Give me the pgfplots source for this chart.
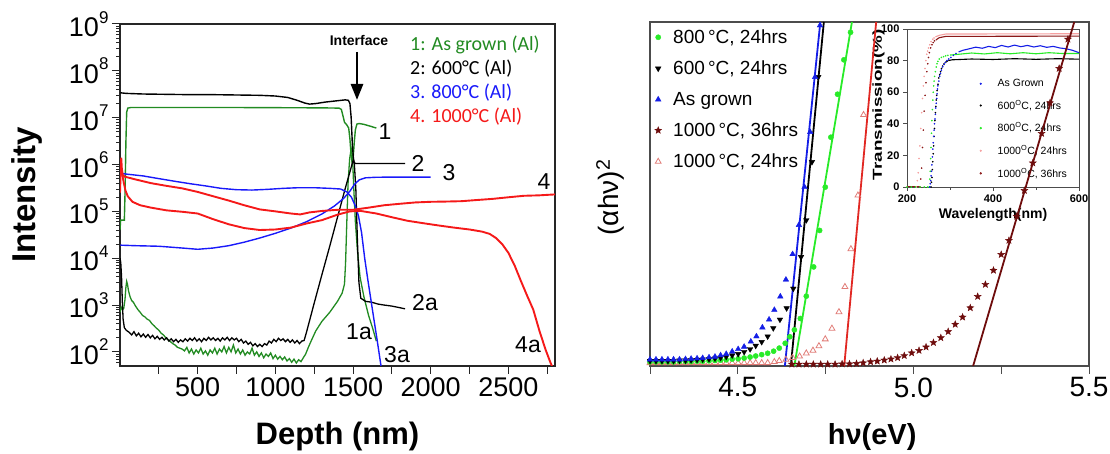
\documentclass[border=0pt]{standalone}
\usepackage{pgfplots}
\pgfplotsset{compat=1.18}
\usepackage{fontspec}
\setmainfont{Liberation Sans}
\newfontfamily\calfont{Carlito}
\usetikzlibrary{arrows.meta}
\definecolor{cgreen}{RGB}{34,139,34}
\definecolor{cblue}{RGB}{25,25,250}
\definecolor{cred}{RGB}{245,25,25}
\definecolor{lgreen}{RGB}{40,235,40}
\definecolor{lblue}{RGB}{20,30,230}
\definecolor{lred}{RGB}{225,40,35}
\definecolor{maroon}{RGB}{110,12,12}
\definecolor{pinkt}{RGB}{225,125,120}
\definecolor{ipink}{RGB}{245,160,160}
\definecolor{idred}{RGB}{140,25,25}
\newcommand{\tp}[1]{10\raisebox{0.5em}{\fontsize{17}{17}\selectfont #1}}
\pgfdeclareplotmark{fstar}{%
  \pgfpathmoveto{\pgfpointpolar{90}{\pgfplotmarksize}}%
  \pgfpathlineto{\pgfpointpolar{126}{0.42\pgfplotmarksize}}%
  \pgfpathlineto{\pgfpointpolar{162}{\pgfplotmarksize}}%
  \pgfpathlineto{\pgfpointpolar{198}{0.42\pgfplotmarksize}}%
  \pgfpathlineto{\pgfpointpolar{234}{\pgfplotmarksize}}%
  \pgfpathlineto{\pgfpointpolar{270}{0.42\pgfplotmarksize}}%
  \pgfpathlineto{\pgfpointpolar{306}{\pgfplotmarksize}}%
  \pgfpathlineto{\pgfpointpolar{342}{0.42\pgfplotmarksize}}%
  \pgfpathlineto{\pgfpointpolar{18}{\pgfplotmarksize}}%
  \pgfpathlineto{\pgfpointpolar{54}{0.42\pgfplotmarksize}}%
  \pgfpathclose\pgfusepathqfillstroke}
\begin{document}
\begin{tikzpicture}[x=1pt,y=1pt]
\useasboundingbox (0,0) rectangle (1110,454);
% ================= LEFT PANEL =================
\begin{axis}[at={(120pt,88pt)}, anchor=south west, width=435pt, height=342pt, scale only axis,
  xmin=0, xmax=2800, ymode=log, log basis y=10, ymin=50, ymax=1e9,
  xtick={250,500,...,2750}, xticklabels={,500,,1000,,1500,,2000,,2500,},
  ytickten={2,...,9}, yticklabels={\tp{2},\tp{3},\tp{4},\tp{5},\tp{6},\tp{7},\tp{8},\tp{9}},
  minor ytick={60,70,80,90,200,300,400,500,600,700,800,900,2e3,3e3,4e3,5e3,6e3,7e3,8e3,9e3,2e4,3e4,4e4,5e4,6e4,7e4,8e4,9e4,2e5,3e5,4e5,5e5,6e5,7e5,8e5,9e5,2e6,3e6,4e6,5e6,6e6,7e6,8e6,9e6,2e7,3e7,4e7,5e7,6e7,7e7,8e7,9e7,2e8,3e8,4e8,5e8,6e8,7e8,8e8,9e8},
  tick align=outside, xtick pos=bottom, ytick pos=left,
  major tick length=8pt, minor tick length=4pt,
  axis line style={black!85, line width=1.3pt}, tick style={black!85, line width=1pt},
  minor tick style={black!85, line width=0.7pt},
  ticklabel style={font=\fontsize{27}{27}\selectfont},
  /pgf/number format/assume math mode=true,
  xlabel={\bfseries Depth (nm)}, ylabel={\bfseries Intensity},
  xlabel style={font=\fontsize{31}{31}\selectfont, at={(axis description cs:0.5,-0.205)}, anchor=center},
  ylabel style={font=\fontsize{33}{33}\selectfont, at={(axis description cs:-0.214,0.5)}, anchor=center},
  clip=true]
% curve 1 (green upper)
\addplot[cgreen, line width=1.4pt] coordinates {(0,4e4) (4,6.5e4) (28,6.5e4) (33,3e5) (38,3e6) (43,1.3e7) (50,1.6e7) (70,1.65e7) (300,1.65e7) (700,1.65e7) (1100,1.63e7) (1300,1.62e7) (1410,1.6e7) (1425,1.5e7) (1435,1.1e7) (1445,8e6) (1460,7e6) (1472,6e6) (1480,3.5e6) (1488,1.5e6) (1494,1.1e6) (1500,1.3e6) (1508,3e6) (1515,5.5e6) (1525,7.3e6) (1540,7.5e6) (1570,7.2e6) (1610,6.6e6) (1650,6.0e6)};
% curve 1a (green lower)
\addplot[cgreen, line width=1.3pt] coordinates {(0,700) (8,900) (16,800) (24,850) (32,1300) (38,2400) (43,3200) (48,2800) (55,2000) (65,1500) (75,1250) (86,1150) (100,950) (115,800) (130,700) (145,600) (160,560) (175,500) (190,470) (205,400) (220,360) (235,320) (250,290) (265,250) (280,230) (295,200) (310,180) (325,165) (340,150) (355,140) (370,125) (385,120) (400,115) (415,105) (430,125) (445,95) (460,115) (475,90) (490,110) (505,95) (520,120) (535,90) (550,105) (565,85) (580,110) (595,95) (610,120) (625,90) (640,115) (655,100) (670,130) (685,95) (700,125) (715,100) (730,140) (745,95) (760,115) (775,90) (790,110) (805,85) (820,100) (835,90) (850,120) (865,85) (880,100) (895,80) (910,95) (925,75) (940,90) (955,80) (970,95) (985,72) (1000,85) (1015,70) (1030,80) (1045,68) (1060,78) (1075,64) (1090,72) (1105,60) (1120,70) (1135,58) (1150,68) (1165,62) (1180,75) (1195,90) (1210,120) (1230,170) (1260,280) (1300,450) (1350,700) (1400,1200) (1430,1800) (1445,2800) (1452,8000) (1460,6e4) (1468,4e5) (1478,1.3e6) (1488,2.2e6) (1496,1.6e6) (1505,3e5) (1515,6e4) (1528,1.5e4) (1545,4e3) (1570,1.5e3) (1600,600) (1625,330) (1650,170)};
% curve 2 (black upper)
\addplot[black, line width=1.4pt] coordinates {(2,3.4e7) (40,3.3e7) (150,3.2e7) (300,3.15e7) (450,3.1e7) (600,3.1e7) (750,3.05e7) (900,3.0e7) (1000,2.9e7) (1080,2.7e7) (1140,2.35e7) (1190,2.05e7) (1220,1.95e7) (1260,2.0e7) (1320,2.15e7) (1400,2.3e7) (1450,2.4e7) (1470,2.35e7) (1480,2.0e7) (1488,1.0e7) (1495,3e6) (1502,1.4e6) (1508,1.08e6) (1520,1.05e6) (1835,1.05e6)};
% curve 2a (black lower)
\addplot[black, line width=1.3pt] coordinates {(0,1.0e4) (5,8000) (10,4000) (15,1200) (20,500) (28,330) (40,290) (60,260) (75,230) (90,270) (105,220) (120,250) (135,210) (150,240) (165,205) (180,235) (195,200) (210,225) (225,190) (240,215) (255,185) (270,205) (285,180) (300,200) (315,170) (330,190) (345,165) (360,185) (375,160) (390,180) (405,165) (420,190) (435,170) (450,195) (465,175) (480,200) (495,170) (510,190) (525,165) (540,195) (555,175) (570,205) (585,180) (600,200) (615,175) (630,195) (645,170) (660,200) (675,180) (690,205) (705,175) (720,200) (735,180) (750,195) (765,165) (780,185) (795,155) (810,170) (825,145) (840,160) (855,135) (870,150) (885,130) (900,145) (915,130) (930,150) (945,140) (960,170) (975,155) (990,185) (1005,165) (1020,195) (1035,175) (1050,190) (1065,165) (1080,185) (1095,160) (1110,180) (1125,155) (1140,175) (1155,150) (1170,170) (1185,175) (1200,260) (1250,1100) (1300,4500) (1350,1.8e4) (1400,7.5e4) (1450,3.1e5) (1480,7e5) (1500,1.2e6) (1508,1.1e6) (1518,3e5) (1528,2.5e4) (1538,3e3) (1550,1.4e3) (1580,1.2e3) (1620,1.15e3) (1660,1.05e3) (1700,1.0e3) (1750,950) (1800,880) (1835,830)};
% curve 3a (blue upper)
\addplot[cblue, line width=1.4pt] coordinates {(2,6.5e5) (50,6.2e5) (150,5.7e5) (250,5.0e5) (350,4.4e5) (450,3.9e5) (550,3.5e5) (650,3.1e5) (750,2.9e5) (850,2.85e5) (950,2.95e5) (1050,3.1e5) (1150,3.2e5) (1250,3.2e5) (1350,3.1e5) (1420,3.0e5) (1460,2.6e5) (1490,2.0e5) (1515,1.3e5) (1535,8e4) (1555,3.5e4) (1575,1e4) (1595,3.5e3) (1615,1.3e3) (1635,480) (1655,180) (1675,65) (1690,30)};
% curve 3 (blue lower)
\addplot[cblue, line width=1.4pt] coordinates {(2,1.9e4) (100,1.85e4) (250,1.8e4) (400,1.65e4) (500,1.55e4) (600,1.65e4) (700,1.85e4) (800,2.2e4) (900,2.7e4) (1000,3.4e4) (1100,4.4e4) (1200,6.0e4) (1300,8.8e4) (1380,1.3e5) (1440,1.9e5) (1480,2.7e5) (1510,3.8e5) (1540,4.7e5) (1580,5.2e5) (1650,5.35e5) (1800,5.4e5) (2000,5.4e5)};
% curve 4 (red upper)
\addplot[cred, line width=1.9pt] coordinates {(0,2.5e5) (4,6e5) (8,1.4e6) (12,8e5) (18,6e5) (30,5.5e5) (60,5.2e5) (100,4.8e5) (200,4.0e5) (300,3.5e5) (400,3.1e5) (500,2.6e5) (600,2.1e5) (700,1.7e5) (800,1.35e5) (900,1.1e5) (1000,1.0e5) (1100,9e4) (1160,8.6e4) (1220,9.5e4) (1300,1.02e5) (1400,1.08e5) (1500,1.08e5) (1600,1.2e5) (1700,1.35e5) (1800,1.45e5) (1900,1.55e5) (2000,1.6e5) (2100,1.62e5) (2200,1.65e5) (2300,1.75e5) (2400,1.85e5) (2500,2.0e5) (2600,2.15e5) (2700,2.2e5) (2800,2.3e5)};
% curve 4a (red lower)
\addplot[cred, line width=1.9pt] coordinates {(15,6e5) (25,4e5) (35,2.8e5) (50,2.1e5) (80,1.6e5) (130,1.35e5) (200,1.2e5) (300,1.05e5) (400,9.8e4) (500,9e4) (600,6.8e4) (700,5.3e4) (800,4.4e4) (900,4.0e4) (1000,4.1e4) (1100,4.5e4) (1200,5.5e4) (1300,6.5e4) (1400,8.5e4) (1480,1.0e5) (1550,1.02e5) (1650,9e4) (1750,7.5e4) (1850,6.3e4) (1950,5.6e4) (2050,5.0e4) (2150,4.5e4) (2250,4.1e4) (2330,3.7e4) (2380,3.3e4) (2420,2.7e4) (2460,2.0e4) (2500,1.3e4) (2540,7e3) (2580,3.3e3) (2620,1.6e3) (2660,800) (2700,280) (2740,110) (2770,60) (2800,35)};
\end{axis}
% left annotations
\node[font=\bfseries\fontsize{14}{14}\selectfont] at (359,413) {Interface};
\draw[line width=2.6pt, -{Triangle[length=16pt,width=12pt]}] (357,402) -- (357,354);
\begin{scope}[every node/.style={anchor=west, font=\calfont\fontsize{20}{20}\selectfont, inner sep=0pt}]
\node[text=cgreen] at (410,409) {1: As grown (Al)};
\node[text=black] at (410,385) {2: 600°C (Al)};
\node[text=cblue] at (410,361) {3. 800°C (Al)};
\node[text=cred] at (410,337) {4. 1000°C (Al)};
\end{scope}
\begin{scope}[every node/.style={font=\fontsize{23}{23}\selectfont, inner sep=0pt}]
\node at (385,322) {1};
\node at (418,291) {2};
\node at (449,281) {3};
\node at (544,272) {4};
\node at (425,151) {2a};
\node at (359,122) {1a};
\node at (397,99) {3a};
\node at (528,109) {4a};
\end{scope}
% ================= INSET =================
\begin{axis}[at={(907pt,267pt)}, anchor=south west, width=172pt, height=158pt, scale only axis,
  xmin=200, xmax=600, ymin=0, ymax=100,
  xtick={200,400,600}, minor xtick={300,500}, ytick={0,20,...,100},
  tick align=outside, xtick pos=bottom, ytick pos=left,
  major tick length=4pt, minor tick length=3pt,
  axis line style={black!70, line width=0.9pt}, tick style={black!70, line width=0.8pt},
  ticklabel style={font=\bfseries\fontsize{11}{11}\selectfont},
  /pgf/number format/assume math mode=true,
  xlabel={\bfseries Wavelength(nm)}, ylabel={\scalebox{1.45}[1]{\bfseries Transmission(\%)}},
  xlabel style={font=\fontsize{14}{14}\selectfont, at={(axis description cs:0.5,-0.175)}, anchor=center},
  ylabel style={font=\fontsize{13}{13}\selectfont, at={(axis description cs:-0.165,0.52)}, anchor=center},
  legend style={at={(axis description cs:0.41,0.695)}, anchor=north west, draw=none, fill=none,
    font=\fontsize{10.5}{10.5}\selectfont, row sep=8pt, inner sep=0pt},
  legend image code/.code={\path[draw=none,fill=none] (-3pt,-3pt) rectangle (15pt,3pt); \draw[#1] plot coordinates {(0pt,0pt)};},
  legend cell align=left]
\addlegendimage{only marks, mark=*, mark size=0.9pt, lblue}
\addlegendimage{only marks, mark=*, mark size=0.9pt, black}
\addlegendimage{only marks, mark=*, mark size=0.9pt, lgreen}
\addlegendimage{only marks, mark=*, mark size=0.9pt, ipink}
\addlegendimage{only marks, mark=*, mark size=0.9pt, idred}
% flat/plateau lines
\addplot[forget plot, ipink, line width=0.9pt] coordinates {(200,0) (222,0)};
\addplot[forget plot, ipink, line width=1.1pt] coordinates {(266,95) (275,96) (290,96.8) (600,97)};
\addplot[forget plot, idred, line width=0.9pt] coordinates {(200,0.3) (230,0.3)};
\addplot[forget plot, idred, line width=1.1pt] coordinates {(267,93) (275,94.5) (290,95.3) (600,95.5)};
\addplot[forget plot, lgreen, line width=1.1pt] coordinates {(300,83.5) (320,84) (350,84.8) (380,84.2) (410,85) (440,84.3) (470,85) (500,84.3) (530,85) (560,84.5) (600,84.5)};
\addplot[forget plot, black, line width=1.1pt] coordinates {(296,80) (305,80.5) (350,81) (400,80.7) (450,81.2) (500,80.8) (550,81.2) (600,80.9)};
\addplot[forget plot, lblue, line width=1.1pt] coordinates {(320,85.5) (330,86.5) (345,87.5) (360,88.5) (375,87.8) (390,89) (405,88.2) (420,89.6) (435,88.6) (450,89.8) (465,88.8) (480,89.6) (495,88.6) (510,89.4) (525,88.4) (540,89) (555,88) (570,87.5) (585,86.5) (600,85)};
% rising edges (dots)
\addplot[forget plot, only marks, mark=*, mark size=0.6pt, ipink] coordinates {(222,0) (224,4) (226,9) (228,18) (230,26) (232,37) (234,47) (236,56) (238,64) (240,70) (242,75) (244,80) (246,84) (248,86) (250,88) (253,90) (256,92) (260,93.5) (263,94.3)};
\addplot[forget plot, only marks, mark=*, mark size=0.6pt, idred] coordinates {(230,0) (232,5) (234,12) (236,25) (238,36) (240,48) (242,58) (244,66) (246,73) (248,78) (250,82) (252,85) (255,88) (258,90) (261,91.5) (264,92.5)};
\addplot[forget plot, only marks, mark=*, mark size=0.6pt, lgreen] coordinates {(200,0) (210,0) (220,0) (230,0) (240,0) (248,0) (252,0) (253,5) (254,10) (255,18) (256,25) (257,34) (258,42) (259,49) (260,55) (261,60) (262,64) (263,67) (264,70) (266,73) (268,76) (270,78) (272,79.5) (275,81) (280,82) (285,82.5) (290,83) (295,83.3)};
\addplot[forget plot, only marks, mark=*, mark size=0.6pt, black] coordinates {(256,0) (257,3) (258,6) (259,11) (260,16) (261,21) (262,26) (263,32) (264,37) (265,42) (266,47) (267,51) (268,55) (269,58) (270,61) (272,65) (274,69) (276,71) (278,73) (280,75) (283,76.5) (286,77.8) (290,79) (293,79.6)};
\addplot[forget plot, only marks, mark=*, mark size=0.6pt, lblue] coordinates {(253,0) (254,2) (255,4) (256,7) (257,10) (258,14) (259,19) (260,24) (261,28) (262,32) (263,36) (264,40) (265,43) (266,46) (267,50) (268,53) (269,56) (270,59) (271,62) (272,64) (274,67) (276,70) (278,72) (280,74) (283,76) (286,77.5) (289,78.8) (293,80) (297,81) (302,82) (308,83.3) (314,84.5)};
\legend{As Grown, {600\textsuperscript{O}C, 24hrs}, {800\textsuperscript{O}C, 24hrs}, {1000\textsuperscript{O}C, 24hrs}, {1000\textsuperscript{O}C, 36hrs}}
\end{axis}
% ================= RIGHT PANEL =================
\begin{axis}[at={(650pt,88pt)}, anchor=south west, width=439pt, height=344pt, scale only axis,
  xmin=4.25, xmax=5.5, ymin=0, ymax=100,
  xtick={4.25,4.5,4.75,5.0,5.25,5.5}, xticklabels={,4.5,,5.0,,5.5}, ytick=\empty,
  tick align=outside, xtick pos=bottom,
  major tick length=8pt,
  axis line style={black!70, line width=1.3pt}, tick style={black!70, line width=1pt},
  ticklabel style={font=\fontsize{28}{28}\selectfont},
  /pgf/number format/assume math mode=true,
  xlabel={\bfseries hν(eV)}, ylabel={(αhν)\textsuperscript{2}},
  xlabel style={font=\fontsize{29}{29}\selectfont, at={(axis description cs:0.506,-0.206)}, anchor=center},
  ylabel style={font=\fontsize{28}{28}\selectfont, at={(axis description cs:-0.09,0.49)}, anchor=center},
  legend style={at={(axis description cs:0.0,0.99)}, anchor=north west, draw=none, fill=none,
    font=\fontsize{19}{19}\selectfont, row sep=12pt},
  legend image code/.code={\path[draw=none,fill=none] (-5pt,-4pt) rectangle (13pt,4pt); \draw[#1] plot coordinates {(0pt,0pt)};},
  legend cell align=left]
\addlegendimage{only marks, mark=*, mark size=2.6pt, lgreen}
\addlegendimage{only marks, mark=triangle*, mark size=3.2pt, mark options={rotate=180}, black}
\addlegendimage{only marks, mark=triangle*, mark size=3.2pt, lblue}
\addlegendimage{only marks, mark=fstar, mark size=3.6pt, maroon}
\addlegendimage{only marks, mark=triangle, mark size=3.4pt, mark options={line width=0.8pt}, pinkt}
% fitted lines
\addplot[forget plot, lblue, line width=1.8pt] coordinates {(4.634,0) (4.735,100)};
\addplot[forget plot, black, line width=1.8pt] coordinates {(4.651,0) (4.745,100)};
\addplot[forget plot, lgreen, line width=1.8pt] coordinates {(4.661,0) (4.825,100)};
\addplot[forget plot, lred, line width=1.8pt] coordinates {(4.803,0) (4.894,100)};
\addplot[forget plot, maroon, line width=1.8pt] coordinates {(5.170,0) (5.458,100)};
% 1000C 36hrs stars
\addplot[forget plot, only marks, mark=fstar, mark size=3.6pt, maroon] coordinates {(4.654,0.5) (4.674,0.5) (4.695,0.5) (4.715,0.5) (4.736,0.5) (4.756,0.5) (4.777,0.5) (4.797,0.6) (4.818,0.6) (4.838,0.7) (4.857,0.9) (4.878,1.2) (4.897,1.4) (4.917,1.7) (4.936,2.0) (4.955,2.4) (4.974,3.0) (4.995,3.8) (5.016,4.5) (5.036,5.5) (5.057,6.8) (5.078,8.2) (5.099,10.0) (5.119,12.1) (5.140,14.2) (5.162,16.9) (5.183,20.2) (5.205,23.7) (5.228,27.8) (5.250,32.4) (5.272,36.5) (5.294,43.5) (5.316,51) (5.340,59) (5.365,67.6) (5.389,76.5) (5.415,86.5) (5.440,95)};
% 1000C 24hrs open triangles
\addplot[forget plot, only marks, mark=triangle, mark size=3.4pt, mark options={line width=0.8pt}, pinkt] coordinates {(4.250,0.9) (4.267,0.9) (4.284,0.9) (4.301,0.9) (4.317,0.9) (4.334,0.9) (4.351,0.9) (4.367,0.9) (4.384,0.9) (4.400,0.9) (4.418,0.9) (4.435,0.9) (4.451,0.9) (4.467,0.9) (4.484,0.9) (4.501,0.9) (4.518,0.9) (4.535,0.9) (4.551,0.9) (4.568,0.9) (4.585,0.9) (4.604,1.2) (4.618,1.5) (4.637,1.9) (4.656,2.4) (4.676,2.8) (4.695,3.7) (4.714,4.5) (4.731,5.8) (4.749,7.8) (4.768,10.9) (4.788,15.7) (4.805,23) (4.822,34) (4.842,49.6) (4.858,73)};
% 800C circles
\addplot[forget plot, only marks, mark=*, mark size=2.6pt, lgreen] coordinates {(4.250,1.2) (4.267,1.2) (4.284,1.2) (4.301,1.2) (4.317,1.2) (4.334,1.3) (4.351,1.3) (4.367,1.3) (4.384,1.4) (4.400,1.4) (4.418,1.5) (4.435,1.6) (4.451,1.7) (4.467,1.8) (4.484,2.0) (4.501,2.1) (4.518,2.3) (4.535,2.6) (4.551,2.9) (4.568,3.3) (4.585,3.7) (4.602,4.3) (4.618,5.2) (4.635,6.6) (4.648,8.5) (4.661,10.5) (4.678,13.8) (4.695,20.3) (4.716,28.8) (4.733,39.4) (4.749,52) (4.765,66.5) (4.784,79) (4.802,89) (4.821,97)};
% 600C down triangles
\addplot[forget plot, only marks, mark=triangle*, mark size=3.2pt, mark options={rotate=180}, black] coordinates {(4.250,1.5) (4.267,1.5) (4.284,1.5) (4.301,1.5) (4.317,1.5) (4.334,1.6) (4.351,1.6) (4.367,1.7) (4.384,1.8) (4.400,1.9) (4.418,2.0) (4.435,2.2) (4.451,2.4) (4.467,2.7) (4.484,3.1) (4.501,3.5) (4.518,4.1) (4.535,4.9) (4.551,5.9) (4.568,7.0) (4.585,8.6) (4.601,11.0) (4.620,13.5) (4.639,16.8) (4.658,22.5) (4.680,31.7) (4.695,42.4) (4.711,59.3) (4.729,84)};
% As grown triangles
\addplot[forget plot, only marks, mark=triangle*, mark size=3.2pt, lblue] coordinates {(4.250,1.9) (4.267,1.9) (4.284,1.9) (4.301,1.9) (4.317,1.9) (4.334,1.9) (4.351,2.0) (4.367,2.1) (4.384,2.2) (4.400,2.3) (4.418,2.5) (4.435,2.7) (4.451,3.1) (4.467,3.5) (4.484,4.2) (4.501,4.9) (4.518,5.6) (4.537,7.1) (4.553,8.6) (4.570,11.2) (4.589,13.5) (4.604,16.3) (4.621,20.2) (4.637,25.1) (4.656,32.5) (4.674,41) (4.690,52) (4.706,68) (4.720,84) (4.734,99)};
\legend{{800\,°C, 24hrs}, {600\,°C, 24hrs}, As grown, {1000\,°C, 36hrs}, {1000\,°C, 24hrs}}
\end{axis}
\end{tikzpicture}
\end{document}
